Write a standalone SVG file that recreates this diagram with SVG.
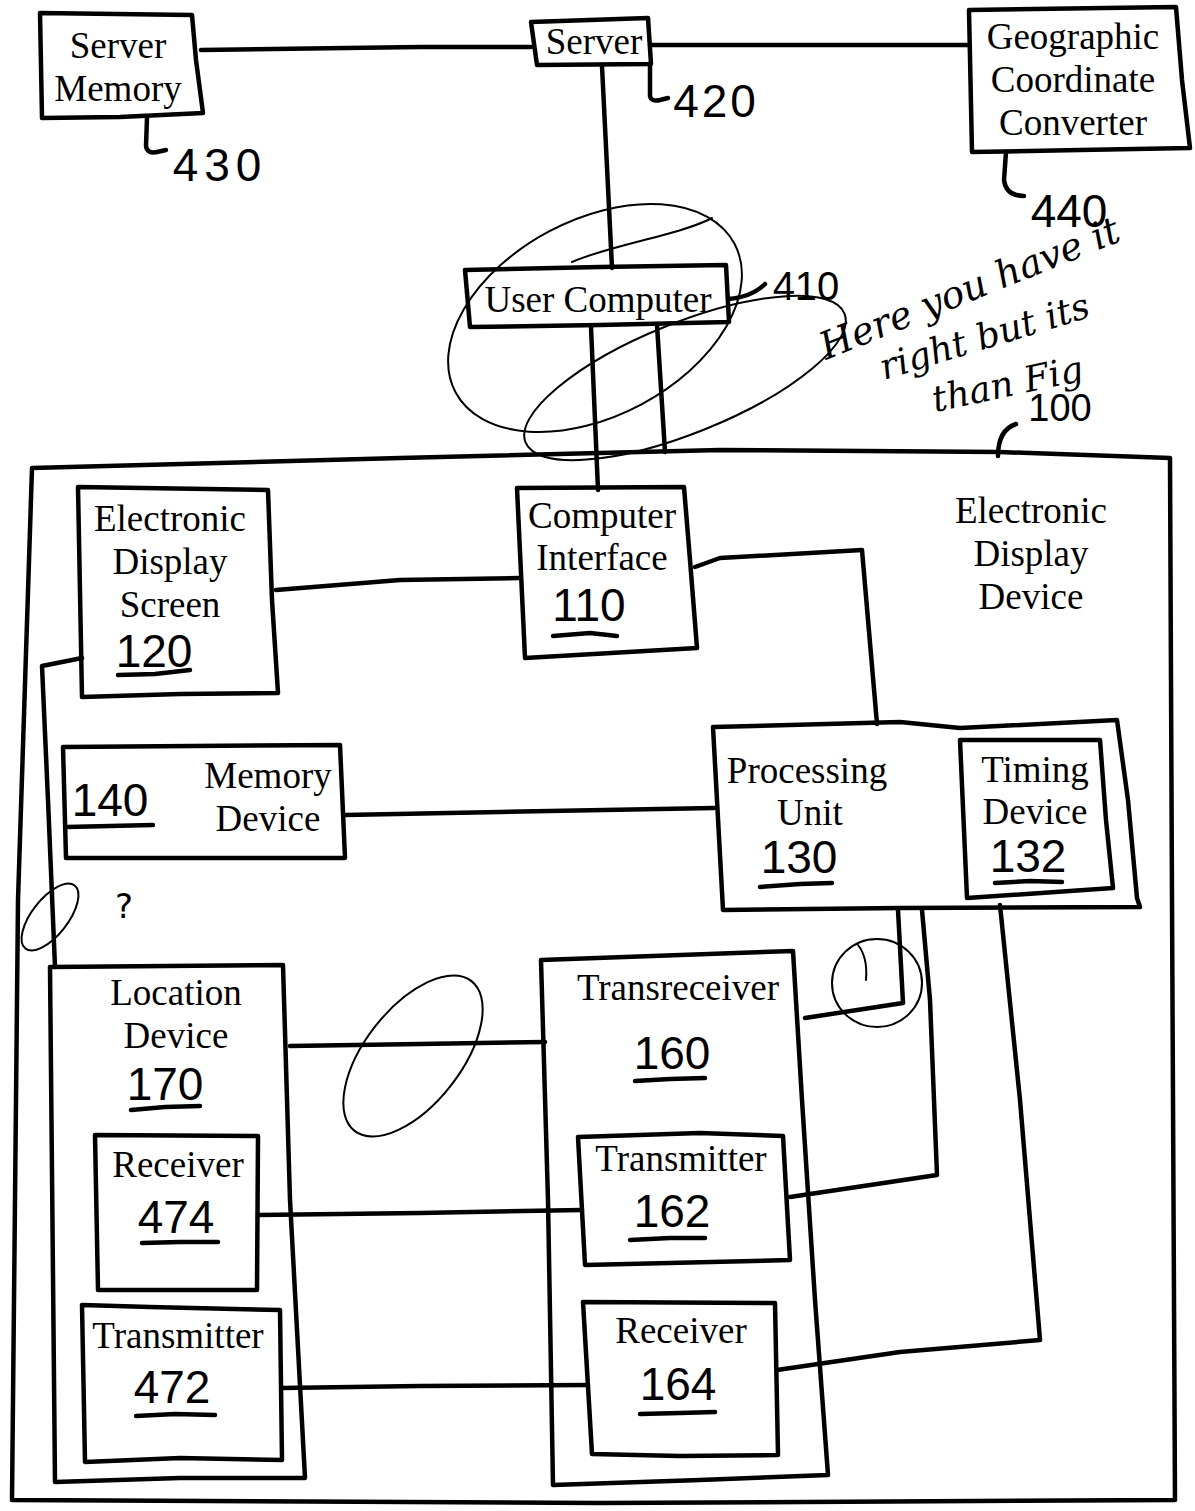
<svg xmlns="http://www.w3.org/2000/svg" width="1195" height="1511" viewBox="0 0 1195 1511">
<style>
.bx{fill:none;stroke:#000;stroke-width:4.5;stroke-linejoin:round;stroke-linecap:round}
.ln{fill:none;stroke:#000;stroke-width:4.5;stroke-linejoin:round;stroke-linecap:round}
.sc{fill:none;stroke:#000;stroke-width:2;stroke-linecap:round}
.t{font-family:"Liberation Serif","Times New Roman",serif;font-size:37px;text-anchor:middle;fill:#000}
.n{font-family:"Liberation Sans",Arial,sans-serif;font-size:46px;text-anchor:middle;fill:#000}
.u{fill:none;stroke:#000;stroke-width:4.5;stroke-linecap:round}
.hw{font-family:"DejaVu Serif",serif;font-style:italic;fill:#000}
</style>
<rect width="1195" height="1511" fill="#fff"/>

<g id="connectors">
<path class="ln" d="M201,50 L420,47 L531,47"/>
<path class="ln" d="M652,45 L969,45"/>
<path class="ln" d="M602,66 L612,268"/>
<path class="ln" d="M591,327 L598,490"/>
<path class="ln" d="M657,325 L665,452"/>
<path class="ln" d="M276,590 L400,580 L519,578"/>
<path class="ln" d="M695,567 L720,558 L862,550 L877,724"/>
<path class="ln" d="M82,658 L42,666 L48,800 L55,967"/>
<path class="ln" d="M345,815 L500,812 L714,808"/>
<path class="ln" d="M898,910 L903,1003 L805,1018"/>
<path class="ln" d="M922,910 L930,1000 L937,1175 L790,1197"/>
<path class="ln" d="M1000,905 L1020,1100 L1040,1340 L900,1352 L777,1370"/>
<path class="ln" d="M290,1046 L420,1044 L545,1042"/>
<path class="ln" d="M258,1215 L420,1213 L582,1210"/>
<path class="ln" d="M282,1388 L420,1386 L588,1385"/>
</g>

<g id="n430">
<path class="ln" d="M147,118 L146,146 Q147,154 157,152 L166,150"/>
<text class="n" x="220" y="181" style="letter-spacing:6px">430</text>
</g>
<g id="n420">
<path class="ln" d="M650,66 L650,96 Q651,102 660,100 L668,98"/>
<text class="n" x="716" y="117" style="letter-spacing:3px">420</text>
</g>
<g id="n440">
<path class="ln" d="M1006,152 L1004,180 Q1006,196 1024,196"/>
<text class="n" x="1069" y="227">440</text>
</g>
<g id="n410">
<path class="ln" d="M728,299 Q752,297 765,284"/>
<text class="n" x="806" y="300" style="font-size:40px">410</text>
</g>
<g id="n100">
<path class="ln" d="M998,456 Q998,430 1016,424"/>
<text class="n" x="1060" y="421" style="font-size:38px">100</text>
</g>

<g id="server-memory">
<path class="bx" d="M40,13 L192,15 L196,60 L203,113 L120,117 L42,118 Z"/>
<text class="t" x="118" y="58">Server</text>
<text class="t" x="118" y="101">Memory</text>
</g>
<g id="server">
<path class="bx" d="M531,22 L648,18 L651,64 L537,65 Z"/>
<text class="t" x="594" y="54">Server</text>
</g>
<g id="geo-converter">
<path class="bx" d="M969,10 L1176,7 L1182,80 L1190,148 L1080,150 L972,152 Z"/>
<text class="t" x="1073" y="49">Geographic</text>
<text class="t" x="1073" y="92">Coordinate</text>
<text class="t" x="1073" y="135">Converter</text>
</g>
<g id="user-computer">
<path class="bx" d="M465,270 L600,267 L726,265 L729,322 L600,325 L470,327 Z"/>
<text class="t" x="598" y="312">User Computer</text>
</g>

<g id="electronic-display-device">
<path class="bx" d="M32,468 L400,458 L720,450 L1000,452 L1170,458 L1172,900 L1175,1500 L600,1503 L12,1500 L18,900 Z"/>
<text class="t" x="1031" y="523">Electronic</text>
<text class="t" x="1031" y="566">Display</text>
<text class="t" x="1031" y="609">Device</text>
</g>

<g id="display-screen">
<path class="bx" d="M78,487 L268,490 L272,600 L278,693 L180,694 L82,697 Z"/>
<text class="t" x="170" y="531">Electronic</text>
<text class="t" x="170" y="574">Display</text>
<text class="t" x="170" y="617">Screen</text>
<text class="n" x="154" y="667">120</text>
<path class="u" d="M118,675 L155,674 L190,670"/>
</g>

<g id="computer-interface">
<path class="bx" d="M517,488 L684,487 L690,560 L697,648 L525,658 Z"/>
<text class="t" x="602" y="528">Computer</text>
<text class="t" x="602" y="570">Interface</text>
<text class="n" x="589" y="621">110</text>
<path class="u" d="M553,636 L590,633 L617,636"/>
</g>

<g id="memory-device">
<path class="bx" d="M63,747 L340,745 L345,858 L66,858 Z"/>
<text class="t" x="268" y="788">Memory</text>
<text class="t" x="268" y="831">Device</text>
<text class="n" x="110" y="816">140</text>
<path class="u" d="M67,827 L110,826 L153,825"/>
</g>

<g id="processing-unit">
<path class="bx" d="M713,727 L900,722 L960,728 L1117,720 L1128,800 L1137,898 L1140,907 L900,908 L723,910 Z"/>
<text class="t" x="807" y="783">Processing</text>
<text class="t" x="810" y="825">Unit</text>
<text class="n" x="799" y="873">130</text>
<path class="u" d="M760,887 L800,884 L832,883"/>
</g>
<g id="timing-device">
<path class="bx" d="M960,740 L1100,740 L1106,820 L1113,888 L967,898 Z"/>
<text class="t" x="1035" y="782">Timing</text>
<text class="t" x="1035" y="824">Device</text>
<text class="n" x="1028" y="872">132</text>
<path class="u" d="M995,883 L1030,881 L1062,882"/>
</g>

<g id="location-device">
<path class="bx" d="M50,967 L283,965 L290,1200 L305,1478 L180,1478 L55,1482 Z"/>
<text class="t" x="176" y="1005">Location</text>
<text class="t" x="176" y="1048">Device</text>
<text class="n" x="165" y="1100">170</text>
<path class="u" d="M131,1110 L165,1107 L200,1106"/>
</g>
<g id="receiver-474">
<path class="bx" d="M95,1135 L258,1136 L257,1290 L98,1290 Z"/>
<text class="t" x="178" y="1177">Receiver</text>
<text class="n" x="176" y="1233">474</text>
<path class="u" d="M142,1243 L180,1242 L218,1242"/>
</g>
<g id="transmitter-472">
<path class="bx" d="M82,1305 L150,1307 L280,1310 L282,1460 L180,1458 L85,1462 Z"/>
<text class="t" x="178" y="1348">Transmitter</text>
<text class="n" x="172" y="1403">472</text>
<path class="u" d="M136,1416 L175,1414 L215,1415"/>
</g>

<g id="transreceiver">
<path class="bx" d="M541,960 L793,951 L802,1100 L815,1300 L828,1475 L700,1480 L553,1485 L548,1200 Z"/>
<text class="t" x="678" y="1000">Transreceiver</text>
<text class="n" x="672" y="1069">160</text>
<path class="u" d="M635,1081 L670,1079 L705,1078"/>
</g>
<g id="transmitter-162">
<path class="bx" d="M578,1137 L700,1133 L783,1136 L790,1260 L585,1265 Z"/>
<text class="t" x="681" y="1171">Transmitter</text>
<text class="n" x="672" y="1227">162</text>
<path class="u" d="M630,1240 L670,1238 L705,1238"/>
</g>
<g id="receiver-164">
<path class="bx" d="M583,1302 L775,1303 L778,1455 L680,1456 L592,1454 Z"/>
<text class="t" x="681" y="1343">Receiver</text>
<text class="n" x="678" y="1400">164</text>
<path class="u" d="M640,1414 L680,1413 L715,1412"/>
</g>

<g id="annotations">
<ellipse class="sc" cx="595" cy="318" rx="158" ry="98" transform="rotate(-28 595 318)"/>
<ellipse class="sc" cx="685" cy="378" rx="172" ry="55" transform="rotate(-22 685 378)"/>
<path class="sc" d="M572,262 C610,245 680,235 712,218"/>
<ellipse class="sc" cx="50" cy="917" rx="40" ry="18" transform="rotate(-52 50 917)"/>
<text x="115" y="918" style="font-family:'DejaVu Sans',sans-serif;font-size:34px;fill:#000">?</text>
<ellipse class="sc" cx="413" cy="1056" rx="95" ry="48" transform="rotate(-52 413 1056)"/>
<ellipse class="sc" cx="877" cy="983" rx="45" ry="44"/>
<path class="sc" d="M858,945 C866,955 867,968 866,980"/>
<text class="hw" style="font-size:38px" transform="translate(826,360) rotate(-22)">Here you have it</text>
<text class="hw" style="font-size:36px" transform="translate(884,380) rotate(-17)">right but its</text>
<text class="hw" style="font-size:36px" transform="translate(935,412) rotate(-12)">than Fig</text>
</g>
</svg>
